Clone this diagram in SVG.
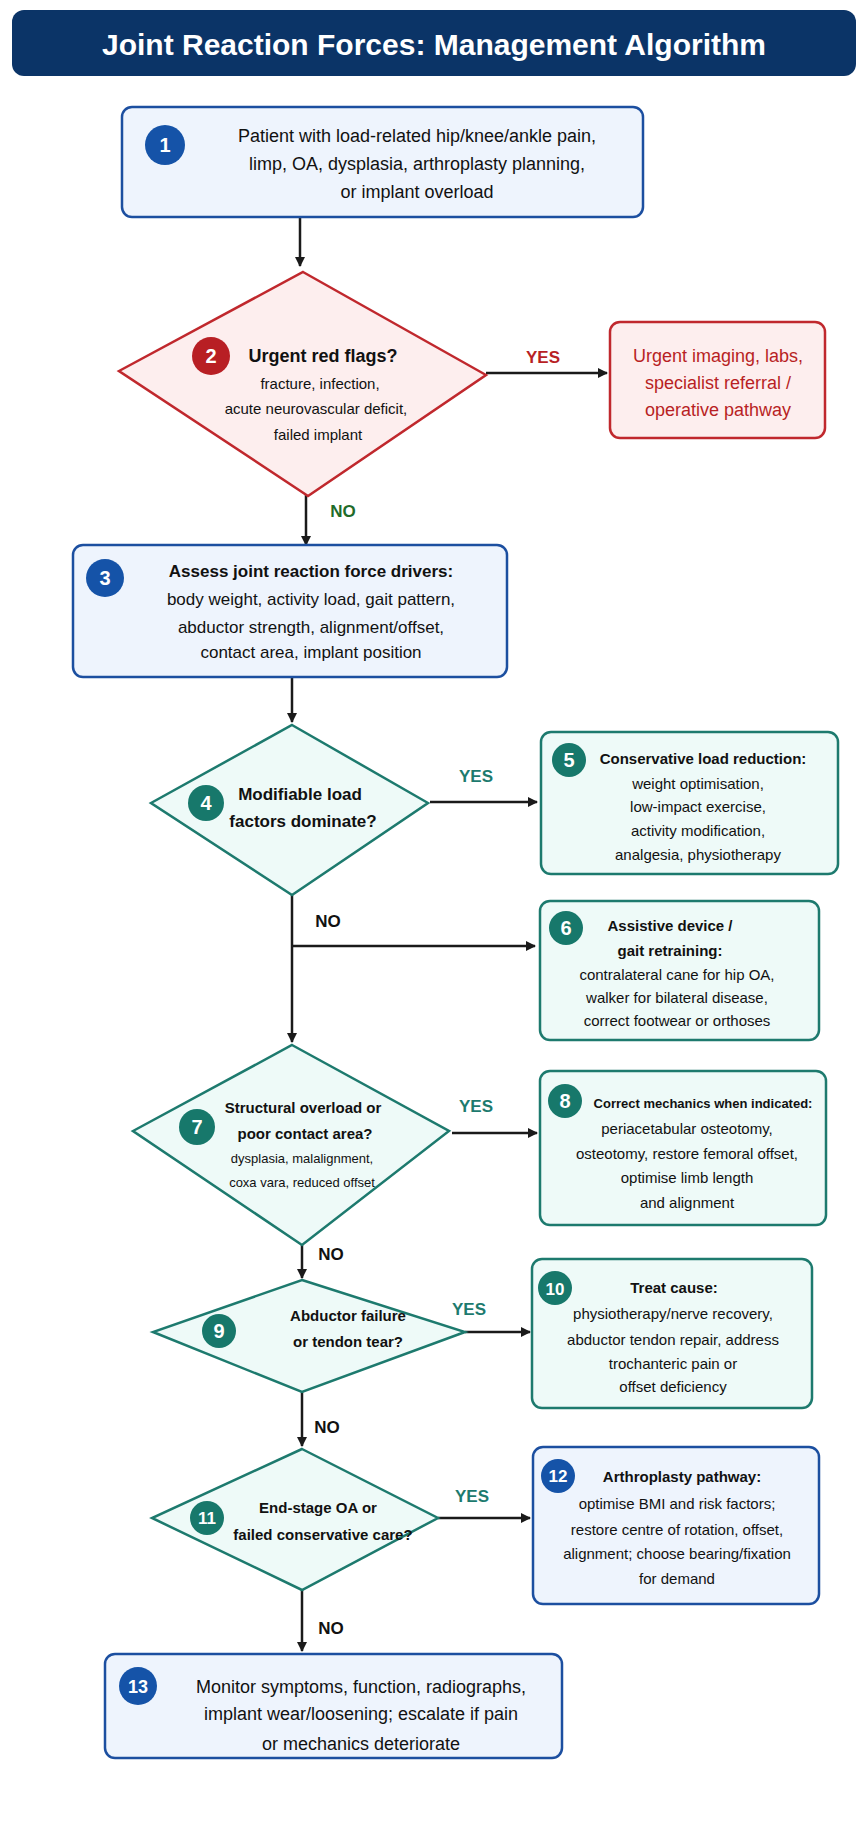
<svg xmlns="http://www.w3.org/2000/svg" width="864" height="1821" viewBox="0 0 864 1821">
<style>
text{font-family:"Liberation Sans",Arial,sans-serif;text-anchor:middle;fill:#111}
.b{font-weight:bold}
.t{font-size:17px}
.s{font-size:15px}
.bluebox{fill:#eef4fd;stroke:#1c4fa0;stroke-width:2.5}
.tealbox{fill:#eefaf8;stroke:#1d7a6e;stroke-width:2.5}
.redbox{fill:#fdeeee;stroke:#c0282d;stroke-width:2.5}
.cb{fill:#1553a8}.ct{fill:#17786b}.cr{fill:#b81f24}
.num{fill:#fff;font-weight:bold;font-size:20px}
.con{stroke:#1a1a1a;stroke-width:2.5;fill:none}
.yes{font-weight:bold;font-size:17px;fill:#1d7a6e}
</style>
<defs><marker id="ah" markerWidth="10" markerHeight="10" refX="9" refY="5" orient="auto" markerUnits="userSpaceOnUse"><path d="M0,0 L10,5 L0,10 z" fill="#1a1a1a"/></marker></defs>
<rect width="864" height="1821" fill="#fff"/>
<g id="title"><rect x="12" y="10" width="844" height="66" rx="12" fill="#0b3467"/><text x="434" y="55" class="b" style="font-size:30px;fill:#fff">Joint Reaction Forces: Management Algorithm</text></g>
<g id="connectors">
<line class="con" x1="300" y1="217" x2="300" y2="266" marker-end="url(#ah)"/>
<line class="con" x1="486" y1="373" x2="607" y2="373" marker-end="url(#ah)"/>
<line class="con" x1="306" y1="494" x2="306" y2="545" marker-end="url(#ah)"/>
<line class="con" x1="292" y1="677" x2="292" y2="722" marker-end="url(#ah)"/>
<line class="con" x1="430" y1="802" x2="537" y2="802" marker-end="url(#ah)"/>
<line class="con" x1="292" y1="895" x2="292" y2="1042" marker-end="url(#ah)"/>
<line class="con" x1="292" y1="946" x2="535" y2="946" marker-end="url(#ah)"/>
<line class="con" x1="452" y1="1133" x2="537" y2="1133" marker-end="url(#ah)"/>
<line class="con" x1="302" y1="1245" x2="302" y2="1278" marker-end="url(#ah)"/>
<line class="con" x1="465" y1="1332" x2="530" y2="1332" marker-end="url(#ah)"/>
<line class="con" x1="302" y1="1392" x2="302" y2="1446" marker-end="url(#ah)"/>
<line class="con" x1="438" y1="1518" x2="530" y2="1518" marker-end="url(#ah)"/>
<line class="con" x1="302" y1="1590" x2="302" y2="1651" marker-end="url(#ah)"/>
<text x="543" y="363" class="b" style="font-size:17px;fill:#b81f24">YES</text>
<text x="343" y="517" class="b" style="font-size:17px;fill:#1f6b2a">NO</text>
<text x="476" y="782" class="yes">YES</text>
<text x="328" y="927" class="b" style="font-size:17px">NO</text>
<text x="476" y="1112" class="yes">YES</text>
<text x="331" y="1260" class="b" style="font-size:17px">NO</text>
<text x="469" y="1315" class="yes">YES</text>
<text x="327" y="1433" class="b" style="font-size:17px">NO</text>
<text x="472" y="1502" class="yes">YES</text>
<text x="331" y="1634" class="b" style="font-size:17px">NO</text>
</g>
<g id="n1"><rect class="bluebox" x="122" y="107" width="521" height="110" rx="10"/><circle class="cb" cx="165" cy="145" r="20"/><text class="num" x="165" y="152">1</text>
<text x="417" y="142" style="font-size:18px">Patient with load-related hip/knee/ankle pain,</text><text x="417" y="170" style="font-size:18px">limp, OA, dysplasia, arthroplasty planning,</text><text x="417" y="198" style="font-size:18px">or implant overload</text></g>
<g id="n2"><polygon points="303,272 486,375 308,496 119,371" fill="#fdeeee" stroke="#c0282d" stroke-width="2.5"/><circle class="cr" cx="211" cy="356" r="19"/><text class="num" x="211" y="363">2</text>
<text x="323" y="362" class="b" style="font-size:18px">Urgent red flags?</text><text x="320" y="389" class="s">fracture, infection,</text><text x="316" y="414" class="s">acute neurovascular deficit,</text><text x="318" y="440" class="s">failed implant</text></g>
<g id="n2r"><rect class="redbox" x="610" y="322" width="215" height="116" rx="10"/><text x="718" y="362" style="font-size:18px;fill:#b81f24">Urgent imaging, labs,</text><text x="718" y="389" style="font-size:18px;fill:#b81f24">specialist referral /</text><text x="718" y="416" style="font-size:18px;fill:#b81f24">operative pathway</text></g>
<g id="n3"><rect class="bluebox" x="73" y="545" width="434" height="132" rx="10"/><circle class="cb" cx="105" cy="578" r="19"/><text class="num" x="105" y="585">3</text>
<text x="311" y="577" class="t b">Assess joint reaction force drivers:</text><text x="311" y="605" class="t">body weight, activity load, gait pattern,</text><text x="311" y="633" class="t">abductor strength, alignment/offset,</text><text x="311" y="658" class="t">contact area, implant position</text></g>
<g id="n4"><polygon points="292,725 428,803 292,895 151,803" fill="#eefaf8" stroke="#1d7a6e" stroke-width="2.5"/><circle class="ct" cx="206" cy="803" r="18"/><text class="num" x="206" y="810">4</text>
<text x="300" y="800" class="t b">Modifiable load</text><text x="303" y="827" class="t b">factors dominate?</text></g>
<g id="n5"><rect class="tealbox" x="541" y="732" width="297" height="142" rx="10"/><circle class="ct" cx="569" cy="760" r="17"/><text class="num" x="569" y="767">5</text>
<text x="703" y="764" class="s b">Conservative load reduction:</text><text x="698" y="789" class="s">weight optimisation,</text><text x="698" y="812" class="s">low-impact exercise,</text><text x="698" y="836" class="s">activity modification,</text><text x="698" y="860" class="s">analgesia, physiotherapy</text></g>
<g id="n6"><rect class="tealbox" x="540" y="901" width="279" height="139" rx="10"/><circle class="ct" cx="566" cy="928" r="17"/><text class="num" x="566" y="935">6</text>
<text x="670" y="931" class="s b">Assistive device /</text><text x="670" y="956" class="s b">gait retraining:</text><text x="677" y="980" class="s">contralateral cane for hip OA,</text><text x="677" y="1003" class="s">walker for bilateral disease,</text><text x="677" y="1026" class="s">correct footwear or orthoses</text></g>
<g id="n7"><polygon points="292,1045 449,1131 302,1245 133,1131" fill="#eefaf8" stroke="#1d7a6e" stroke-width="2.5"/><circle class="ct" cx="197" cy="1127" r="18"/><text class="num" x="197" y="1134">7</text>
<text x="303" y="1113" class="s b">Structural overload or</text><text x="305" y="1139" class="s b">poor contact area?</text><text x="302" y="1163" style="font-size:13px">dysplasia, malalignment,</text><text x="302" y="1187" style="font-size:13px">coxa vara, reduced offset</text></g>
<g id="n8"><rect class="tealbox" x="540" y="1071" width="286" height="154" rx="10"/><circle class="ct" cx="565" cy="1101" r="17"/><text class="num" x="565" y="1108">8</text>
<text x="703" y="1108" class="b" style="font-size:13px">Correct mechanics when indicated:</text><text x="687" y="1134" class="s">periacetabular osteotomy,</text><text x="687" y="1159" class="s">osteotomy, restore femoral offset,</text><text x="687" y="1183" class="s">optimise limb length</text><text x="687" y="1208" class="s">and alignment</text></g>
<g id="n9"><polygon points="302,1280 465,1332 302,1392 153,1332" fill="#eefaf8" stroke="#1d7a6e" stroke-width="2.5"/><circle class="ct" cx="219" cy="1331" r="17"/><text class="num" x="219" y="1338">9</text>
<text x="348" y="1321" class="s b">Abductor failure</text><text x="348" y="1347" class="s b">or tendon tear?</text></g>
<g id="n10"><rect class="tealbox" x="532" y="1259" width="280" height="149" rx="10"/><circle class="ct" cx="555" cy="1288" r="17"/><text class="num" x="555" y="1295" style="font-size:17px">10</text>
<text x="674" y="1293" class="s b">Treat cause:</text><text x="673" y="1319" class="s">physiotherapy/nerve recovery,</text><text x="673" y="1345" class="s">abductor tendon repair, address</text><text x="673" y="1369" class="s">trochanteric pain or</text><text x="673" y="1392" class="s">offset deficiency</text></g>
<g id="n11"><polygon points="302,1449 438,1518 302,1590 152,1518" fill="#eefaf8" stroke="#1d7a6e" stroke-width="2.5"/><circle class="ct" cx="207" cy="1518" r="17"/><text class="num" x="207" y="1524" style="font-size:17px">11</text>
<text x="318" y="1513" class="s b">End-stage OA or</text><text x="323" y="1540" class="s b">failed conservative care?</text></g>
<g id="n12"><rect class="bluebox" x="533" y="1447" width="286" height="157" rx="10"/><circle class="cb" cx="558" cy="1476" r="17"/><text class="num" x="558" y="1482" style="font-size:17px">12</text>
<text x="682" y="1482" class="s b">Arthroplasty pathway:</text><text x="677" y="1509" class="s">optimise BMI and risk factors;</text><text x="677" y="1535" class="s">restore centre of rotation, offset,</text><text x="677" y="1559" class="s">alignment; choose bearing/fixation</text><text x="677" y="1584" class="s">for demand</text></g>
<g id="n13"><rect class="bluebox" x="105" y="1654" width="457" height="104" rx="10"/><circle class="cb" cx="138" cy="1686" r="19"/><text class="num" x="138" y="1693" style="font-size:18px">13</text>
<text x="361" y="1693" style="font-size:18px">Monitor symptoms, function, radiographs,</text><text x="361" y="1720" style="font-size:18px">implant wear/loosening; escalate if pain</text><text x="361" y="1750" style="font-size:18px">or mechanics deteriorate</text></g>
</svg>
